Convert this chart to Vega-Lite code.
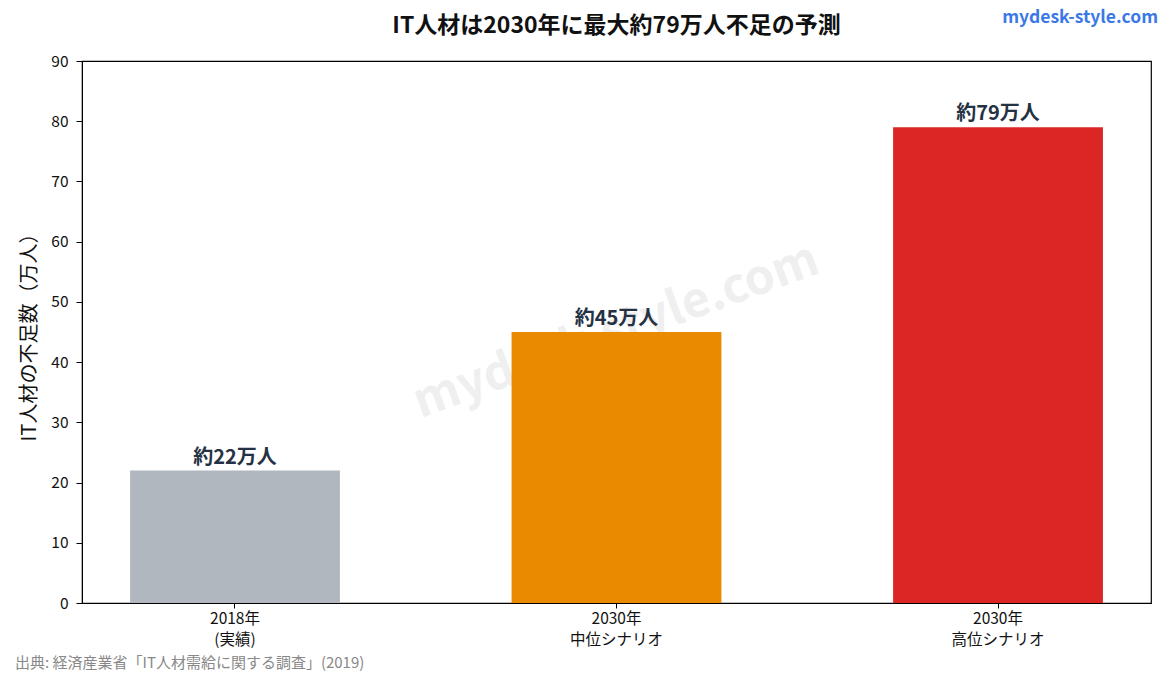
{
  "$schema": "https://vega.github.io/schema/vega-lite/v6.json",
  "autosize": {"type": "none"},
  "width": 1069,
  "height": 542,
  "padding": {"left": 82, "top": 61, "right": 19, "bottom": 73},
  "background": "white",
  "config": {
    "font": "Noto Sans CJK JP",
    "view": {"stroke": "black", "strokeWidth": 1.2},
    "axis": {"labelFont": "Noto Sans CJK JP", "titleFont": "Noto Sans CJK JP"}
  },
  "title": {
    "text": "IT人材は2030年に最大約79万人不足の予測",
    "fontSize": 23,
    "fontWeight": "bold",
    "color": "#111111",
    "anchor": "middle",
    "baseline": "bottom",
    "offset": -52
  },
  "data": {
    "values": [
      {"category": "2018年\n(実績)", "value": 22, "label": "約22万人", "group": "実績"},
      {"category": "2030年\n中位シナリオ", "value": 45, "label": "約45万人", "group": "中位"},
      {"category": "2030年\n高位シナリオ", "value": 79, "label": "約79万人", "group": "高位"}
    ]
  },
  "encoding": {
    "x": {
      "field": "category",
      "type": "nominal",
      "sort": null,
      "scale": {"domain": ["2018年\n(実績)", "2030年\n中位シナリオ", "2030年\n高位シナリオ"], "paddingInner": 0.45, "paddingOuter": 0.126},
      "axis": {
        "title": null,
        "labelAngle": 0,
        "labelExpr": "split(datum.label, '\\n')",
        "labelFontSize": 15.5,
        "labelColor": "#111111",
        "labelLineHeight": 21,
        "labelPadding": 3,
        "tickSize": 5,
        "tickColor": "black",
        "domainColor": "black",
        "grid": false
      }
    }
  },
  "layer": [
    {
      "data": {"values": [{"w": "mydesk-style.com"}]},
      "mark": {"type": "text", "fontSize": 48, "fontWeight": "bold", "color": "#cccccc", "opacity": 0.3, "angle": -20, "align": "center", "baseline": "middle", "font": "Noto Sans CJK JP"},
      "encoding": {
        "x": {"datum": "2030年\n中位シナリオ"},
        "y": {"datum": 45},
        "text": {"field": "w"}
      }
    },
    {
      "mark": {"type": "bar"},
      "encoding": {
        "y": {
          "field": "value",
          "type": "quantitative",
          "scale": {"domain": [0, 90], "nice": false},
          "axis": {
            "title": "IT人材の不足数（万人）",
            "titleFontSize": 20,
            "titleFontWeight": "normal",
            "titleColor": "#111111",
            "titlePadding": 11,
            "values": [0, 10, 20, 30, 40, 50, 60, 70, 80, 90],
            "labelFontSize": 15.5,
            "labelColor": "#111111",
            "labelPadding": 8,
            "tickSize": 6,
            "tickColor": "black",
            "domainColor": "black",
            "gridColor": "#e6e6e6",
            "gridWidth": 1
          }
        },
        "color": {
          "field": "group",
          "type": "nominal",
          "scale": {"domain": ["実績", "中位", "高位"], "range": ["#b0b7bf", "#ea8a00", "#dc2626"]},
          "legend": null
        }
      }
    },
    {
      "mark": {"type": "text", "fontSize": 20, "fontWeight": "bold", "color": "#253244", "baseline": "bottom", "dy": -3},
      "encoding": {
        "y": {"field": "value", "type": "quantitative"},
        "text": {"field": "label"}
      }
    },
    {
      "data": {"values": [{"w": "mydesk-style.com"}]},
      "mark": {"type": "text", "fontSize": 17.5, "fontWeight": "bold", "color": "#3b78e7", "align": "right", "baseline": "middle", "dx": 160, "dy": -43},
      "encoding": {
        "x": {"datum": "2030年\n高位シナリオ"},
        "y": {"datum": 90},
        "text": {"field": "w"}
      }
    },
    {
      "data": {"values": [{"s": "出典: 経済産業省「IT人材需給に関する調査」(2019)"}]},
      "mark": {"type": "text", "fontSize": 15, "color": "#888888", "align": "left", "baseline": "middle", "dx": -220, "dy": 60},
      "encoding": {
        "x": {"datum": "2018年\n(実績)"},
        "y": {"datum": 0},
        "text": {"field": "s"}
      }
    }
  ]
}
